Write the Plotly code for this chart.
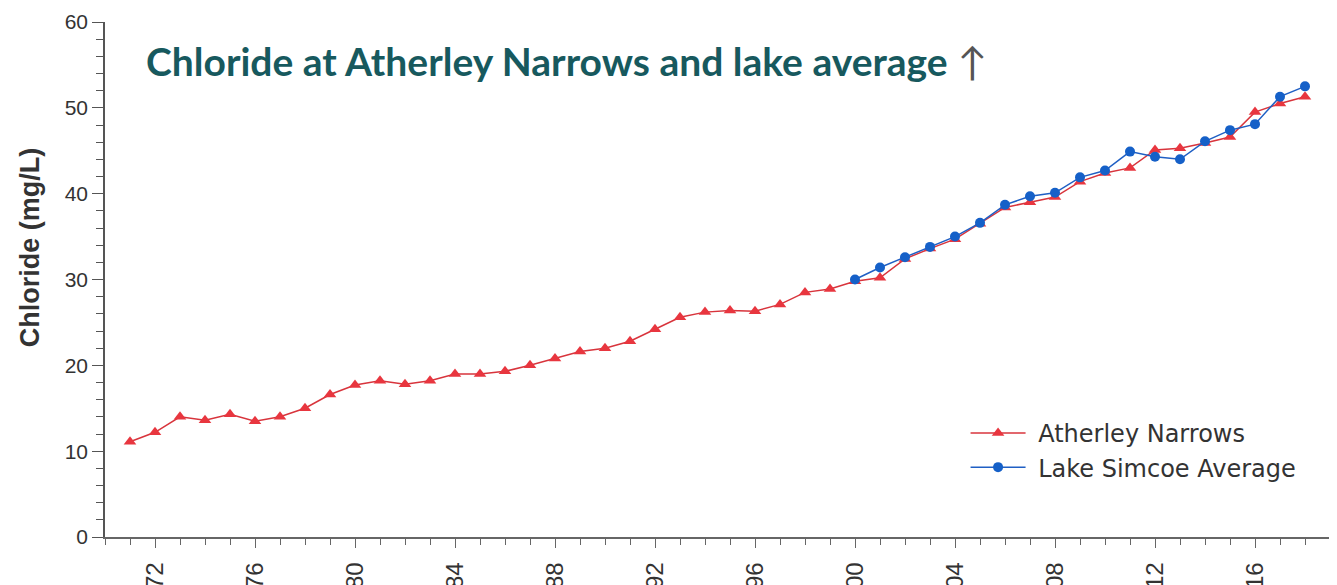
import plotly.graph_objects as go

# yearly chloride readings (mg/L)
years_an = list(range(1971, 2019))
atherley = [
    11.1, 12.2, 14.0, 13.6, 14.3, 13.5, 14.0, 15.0, 16.6, 17.7,
    18.2, 17.8, 18.2, 19.0, 19.0, 19.3, 20.0, 20.8, 21.6, 22.0,
    22.8, 24.2, 25.6, 26.2, 26.4, 26.3, 27.1, 28.5, 28.9, 29.8,
    30.2, 32.4, 33.6, 34.7, 36.5, 38.4, 39.0, 39.6, 41.4, 42.4,
    43.0, 45.1, 45.3, 45.9, 46.6, 49.5, 50.5, 51.3,
]

years_ls = list(range(2000, 2019))
lake_avg = [
    30.0, 31.4, 32.6, 33.8, 35.0, 36.6, 38.7, 39.7, 40.1, 41.9,
    42.7, 44.9, 44.3, 44.0, 46.1, 47.4, 48.1, 51.3, 52.5,
]

fig = go.Figure()

fig.add_trace(go.Scatter(
    x=years_an, y=atherley,
    mode="lines+markers",
    name="\u00a0Atherley Narrows",
    line=dict(color="#d8343c", width=1.5),
    marker=dict(symbol="triangle-up", size=11, color="#e8363f"),
))

fig.add_trace(go.Scatter(
    x=years_ls, y=lake_avg,
    mode="lines+markers",
    name="\u00a0Lake Simcoe Average",
    line=dict(color="#1f5fc4", width=1.5),
    marker=dict(symbol="circle", size=10, color="#1560c8"),
))

tick_font = dict(family="Liberation Sans, Arial", size=21, color="#333333")

# page body adds an 8px offset, so margins are trimmed to land the axes in place
fig.update_layout(
    width=1337,
    height=585,
    autosize=False,
    margin=dict(l=97, r=15, t=14, b=56),
    paper_bgcolor="white",
    plot_bgcolor="white",
    showlegend=True,
    legend=dict(
        x=0.7025, y=0.245, xanchor="left", yanchor="top",
        font=dict(family="DejaVu Sans", size=24, color="#333333"),
        bgcolor="rgba(0,0,0,0)",
        itemwidth=55,
    ),
)

fig.update_xaxes(
    range=[1970, 2019],
    tickmode="linear", tick0=1972, dtick=4,
    ticks="outside", ticklen=9, tickcolor="#666666", tickwidth=1.2,
    tickangle=-90,
    tickfont=dict(family="Liberation Sans, Arial", size=24, color="#333333"),
    ticklabelstandoff=5,
    minor=dict(tickmode="linear", tick0=1970, dtick=1, ticks="outside",
               ticklen=6, tickcolor="#666666"),
    showline=True, linecolor="#666666", linewidth=1.5,
    showgrid=False, zeroline=False, automargin=False,
)

fig.update_yaxes(
    range=[0, 60],
    tickmode="linear", tick0=0, dtick=10,
    ticks="outside", ticklen=11, tickcolor="#555555", tickwidth=1.2,
    tickfont=tick_font,
    minor=dict(tickmode="linear", tick0=0, dtick=2, ticks="outside",
               ticklen=7, tickcolor="#555555"),
    showline=True, linecolor="#555555", linewidth=1.5,
    showgrid=False, zeroline=False, automargin=False,
)

# y-axis title sits a little above the axis middle in the original
fig.add_annotation(
    x=-0.061, y=0.561, xref="paper", yref="paper",
    xanchor="center", yanchor="middle", showarrow=False, textangle=-90,
    text="<b>Chloride (mg/L)</b>",
    font=dict(family="Liberation Sans, Arial", size=27, color="#333333"),
)

fig.add_annotation(
    x=0.032, y=0.925, xref="paper", yref="paper",
    xanchor="left", yanchor="middle", showarrow=False,
    text="<b>Chloride at Atherley Narrows and lake average</b> "
         "<span style='color:#555555'>↑</span>",
    font=dict(family="Lato", size=39, color="#17595e"),
)

fig.write_html("out.html")
